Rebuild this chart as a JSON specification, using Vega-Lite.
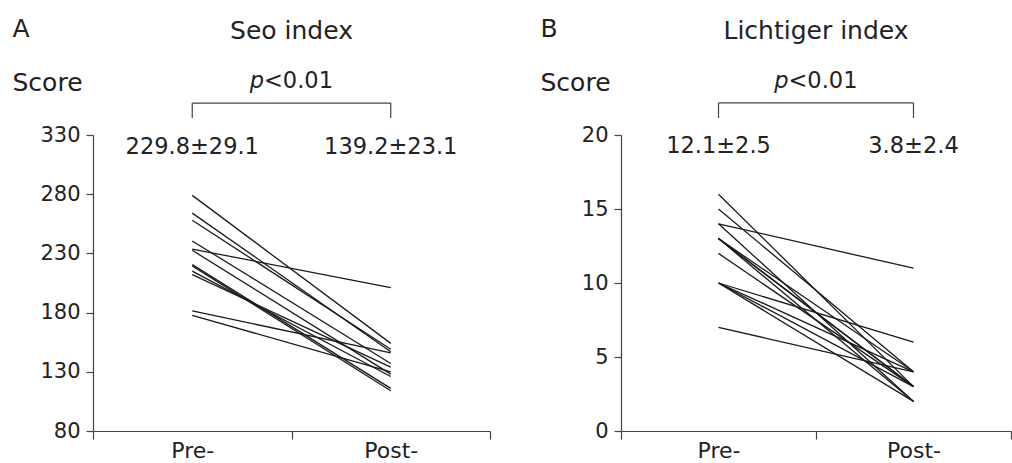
{
  "$schema": "https://vega.github.io/schema/vega-lite/v6.json",
  "padding": {"left": 12, "top": 16, "right": 0, "bottom": 0},
  "background": "white",
  "spacing": 49,
  "config": {
    "view": {"stroke": null},
    "font": "DejaVu Sans",
    "axis": {"domainColor": "#444", "tickColor": "#444", "labelColor": "#222", "titleColor": "#222", "labelFont": "DejaVu Sans", "titleFont": "DejaVu Sans", "grid": false, "domainWidth": 1.2, "tickWidth": 1.2},
    "text": {"font": "DejaVu Sans", "color": "#222"}
  },
  "datasets": {
    "seo": [
      {"id": 1, "time": "Pre-", "score": 279}, {"id": 1, "time": "Post-", "score": 154},
      {"id": 2, "time": "Pre-", "score": 264}, {"id": 2, "time": "Post-", "score": 147},
      {"id": 3, "time": "Pre-", "score": 258}, {"id": 3, "time": "Post-", "score": 149},
      {"id": 4, "time": "Pre-", "score": 240.5}, {"id": 4, "time": "Post-", "score": 137},
      {"id": 5, "time": "Pre-", "score": 233.7}, {"id": 5, "time": "Post-", "score": 201},
      {"id": 6, "time": "Pre-", "score": 232.6}, {"id": 6, "time": "Post-", "score": 128},
      {"id": 7, "time": "Pre-", "score": 220.5}, {"id": 7, "time": "Post-", "score": 116},
      {"id": 8, "time": "Pre-", "score": 219.4}, {"id": 8, "time": "Post-", "score": 114},
      {"id": 9, "time": "Pre-", "score": 215}, {"id": 9, "time": "Post-", "score": 126},
      {"id": 10, "time": "Pre-", "score": 212}, {"id": 10, "time": "Post-", "score": 134},
      {"id": 11, "time": "Pre-", "score": 181.4}, {"id": 11, "time": "Post-", "score": 146},
      {"id": 12, "time": "Pre-", "score": 177.7}, {"id": 12, "time": "Post-", "score": 130}
    ],
    "seoStats": [
      {"time": "Pre-", "label": "229.8±29.1"},
      {"time": "Post-", "label": "139.2±23.1"}
    ],
    "seoHead": [{"title": "Seo index", "p": "p", "rest": "<0.01"}],
    "lich": [
      {"id": 1, "time": "Pre-", "score": 16}, {"id": 1, "time": "Post-", "score": 3},
      {"id": 2, "time": "Pre-", "score": 15}, {"id": 2, "time": "Post-", "score": 4},
      {"id": 3, "time": "Pre-", "score": 14}, {"id": 3, "time": "Post-", "score": 11},
      {"id": 4, "time": "Pre-", "score": 14}, {"id": 4, "time": "Post-", "score": 2},
      {"id": 5, "time": "Pre-", "score": 13}, {"id": 5, "time": "Post-", "score": 4},
      {"id": 6, "time": "Pre-", "score": 13}, {"id": 6, "time": "Post-", "score": 3},
      {"id": 7, "time": "Pre-", "score": 13}, {"id": 7, "time": "Post-", "score": 3},
      {"id": 8, "time": "Pre-", "score": 13}, {"id": 8, "time": "Post-", "score": 2},
      {"id": 9, "time": "Pre-", "score": 12}, {"id": 9, "time": "Post-", "score": 3},
      {"id": 10, "time": "Pre-", "score": 10}, {"id": 10, "time": "Post-", "score": 6},
      {"id": 11, "time": "Pre-", "score": 10}, {"id": 11, "time": "Post-", "score": 3},
      {"id": 12, "time": "Pre-", "score": 10}, {"id": 12, "time": "Post-", "score": 2},
      {"id": 13, "time": "Pre-", "score": 7}, {"id": 13, "time": "Post-", "score": 4},
      {"id": 14, "time": "Pre-", "score": 10}, {"id": 14, "time": "Post-", "score": 4}
    ],
    "lichStats": [
      {"time": "Pre-", "label": "12.1±2.5"},
      {"time": "Post-", "label": "3.8±2.4"}
    ],
    "lichHead": [{"title": "Lichtiger index", "p": "p", "rest": "<0.01"}]
  },
  "hconcat": [
    {
      "width": 397,
      "height": 296,
      "layer": [
        {
          "data": {"name": "seo"},
          "mark": {"type": "line", "color": "#1a1a1a", "strokeWidth": 1.3},
          "encoding": {
            "x": {"field": "time", "type": "nominal", "sort": ["Pre-", "Post-"],
              "scale": {"domain": ["Pre-", "Post-"], "paddingInner": 0, "paddingOuter": 0},
              "axis": {"title": null, "labelAngle": 0, "labelFontSize": 22, "tickSize": 8, "tickBand": "extent", "labelPadding": 1}},
            "y": {"field": "score", "type": "quantitative",
              "scale": {"domain": [80, 330], "nice": false, "zero": false},
              "axis": {"values": [80, 130, 180, 230, 280, 330], "labelFontSize": 21, "tickSize": 7, "labelPadding": 6,
                "title": ["A", "Score"], "titleAngle": 0, "titleAlign": "left", "titleBaseline": "alphabetic",
                "titleX": -81, "titleY": -99, "titleFontSize": 25, "titleFontWeight": "normal", "titleLineHeight": 54}},
            "detail": {"field": "id"}
          }
        },
        {
          "data": {"name": "seoStats"},
          "mark": {"type": "text", "fontSize": 22.5, "baseline": "middle"},
          "encoding": {
            "x": {"field": "time", "type": "nominal"},
            "y": {"datum": 320},
            "text": {"field": "label"}
          }
        },
        {
          "data": {"name": "seoStats"},
          "mark": {"type": "rule", "color": "#444", "strokeWidth": 1.2},
          "encoding": {
            "x": {"field": "time", "type": "nominal"},
            "y": {"datum": 357},
            "y2": {"datum": 344.4}
          }
        },
        {
          "data": {"name": "seoStats"},
          "mark": {"type": "line", "color": "#444", "strokeWidth": 1.2},
          "encoding": {
            "x": {"field": "time", "type": "nominal"},
            "y": {"datum": 357}
          }
        },
        {
          "data": {"name": "seoHead"},
          "mark": {"type": "text", "fontSize": 25, "baseline": "middle", "align": "center"},
          "encoding": {
            "x": {"datum": "Post-", "type": "nominal", "bandPosition": 0},
            "y": {"datum": 417.8},
            "text": {"field": "title"}
          }
        },
        {
          "data": {"name": "seoHead"},
          "mark": {"type": "text", "fontSize": 22.5, "baseline": "middle", "align": "right", "fontStyle": "italic", "dx": -27.5},
          "encoding": {
            "x": {"datum": "Post-", "type": "nominal", "bandPosition": 0},
            "y": {"datum": 375.6},
            "text": {"field": "p"}
          }
        },
        {
          "data": {"name": "seoHead"},
          "mark": {"type": "text", "fontSize": 22.5, "baseline": "middle", "align": "left", "dx": -27.5},
          "encoding": {
            "x": {"datum": "Post-", "type": "nominal", "bandPosition": 0},
            "y": {"datum": 375.6},
            "text": {"field": "rest"}
          }
        }
      ]
    },
    {
      "width": 390,
      "height": 296,
      "layer": [
        {
          "data": {"name": "lich"},
          "mark": {"type": "line", "color": "#1a1a1a", "strokeWidth": 1.3},
          "encoding": {
            "x": {"field": "time", "type": "nominal", "sort": ["Pre-", "Post-"],
              "scale": {"domain": ["Pre-", "Post-"], "paddingInner": 0, "paddingOuter": 0},
              "axis": {"title": null, "labelAngle": 0, "labelFontSize": 22, "tickSize": 8, "tickBand": "extent", "labelPadding": 1}},
            "y": {"field": "score", "type": "quantitative",
              "scale": {"domain": [0, 20], "nice": false, "zero": false},
              "axis": {"values": [0, 5, 10, 15, 20], "labelFontSize": 21, "tickSize": 7, "labelPadding": 6,
                "title": ["B", "Score"], "titleAngle": 0, "titleAlign": "left", "titleBaseline": "alphabetic",
                "titleX": -81, "titleY": -99, "titleFontSize": 25, "titleFontWeight": "normal", "titleLineHeight": 54}},
            "detail": {"field": "id"}
          }
        },
        {
          "data": {"name": "lichStats"},
          "mark": {"type": "text", "fontSize": 22.5, "baseline": "middle"},
          "encoding": {
            "x": {"field": "time", "type": "nominal"},
            "y": {"datum": 19.25},
            "text": {"field": "label"}
          }
        },
        {
          "data": {"name": "lichStats"},
          "mark": {"type": "rule", "color": "#444", "strokeWidth": 1.2},
          "encoding": {
            "x": {"field": "time", "type": "nominal"},
            "y": {"datum": 22.17},
            "y2": {"datum": 21.15}
          }
        },
        {
          "data": {"name": "lichStats"},
          "mark": {"type": "line", "color": "#444", "strokeWidth": 1.2},
          "encoding": {
            "x": {"field": "time", "type": "nominal"},
            "y": {"datum": 22.17}
          }
        },
        {
          "data": {"name": "lichHead"},
          "mark": {"type": "text", "fontSize": 25, "baseline": "middle", "align": "center"},
          "encoding": {
            "x": {"datum": "Post-", "type": "nominal", "bandPosition": 0},
            "y": {"datum": 27.05},
            "text": {"field": "title"}
          }
        },
        {
          "data": {"name": "lichHead"},
          "mark": {"type": "text", "fontSize": 22.5, "baseline": "middle", "align": "right", "fontStyle": "italic", "dx": -27.5},
          "encoding": {
            "x": {"datum": "Post-", "type": "nominal", "bandPosition": 0},
            "y": {"datum": 23.66},
            "text": {"field": "p"}
          }
        },
        {
          "data": {"name": "lichHead"},
          "mark": {"type": "text", "fontSize": 22.5, "baseline": "middle", "align": "left", "dx": -27.5},
          "encoding": {
            "x": {"datum": "Post-", "type": "nominal", "bandPosition": 0},
            "y": {"datum": 23.66},
            "text": {"field": "rest"}
          }
        }
      ]
    }
  ]
}
